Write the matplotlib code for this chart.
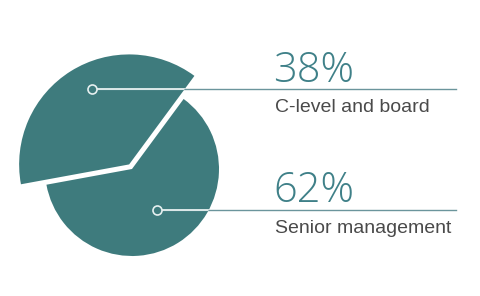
import matplotlib
matplotlib.use("Agg")
import matplotlib.pyplot as plt

# data
labels = ["C-level and board", "Senior management"]
shares = [38, 62]

teal = "#3e7b7d"
text_teal = "#3f8088"
line_col = "#6b959c"
grey = "#4a4a4a"

fig = plt.figure(figsize=(4.8, 2.96), dpi=100)
ax = fig.add_axes([0, 0, 1, 1])

wedges, _ = ax.pie(shares, startangle=53.6, radius=87, center=(132, 127),
                   explode=[5.4, 0], colors=[teal, teal],
                   wedgeprops=dict(linewidth=0))
# the smaller slice is drawn bigger
wedges[0].set_radius(110)

ax.set_xlim(0, 480)
ax.set_ylim(0, 296)
ax.set_aspect("auto")
ax.axis("off")

# leader lines with circle markers
anchors = [(92, 207), (157, 86.5)]
for (x, y), w in zip(anchors, wedges):
    ax.plot([x, 456], [y, y], color=line_col, lw=1, zorder=3)
    inner, = ax.plot([x, 456], [y, y], color="#e6f0f0", lw=1.3, zorder=4)
    inner.set_clip_path(w)
    ax.plot(x, y, "o", ms=6.5, mfc=teal, mec="#e6f0f0", mew=1.2, zorder=5)

# labels
pct_y = [214, 94.5]
lab_y = [184.3, 63.3]
for lab, v, py, ly in zip(labels, shares, pct_y, lab_y):
    ax.text(273, py, f"{v}%", fontsize=30, color=text_teal, va="baseline",
            family="Open Sans", fontweight="light")
    ax.text(275, ly, lab, fontsize=14, color=grey, va="baseline",
            family="Liberation Sans")

fig.savefig("out.png", dpi=100)
